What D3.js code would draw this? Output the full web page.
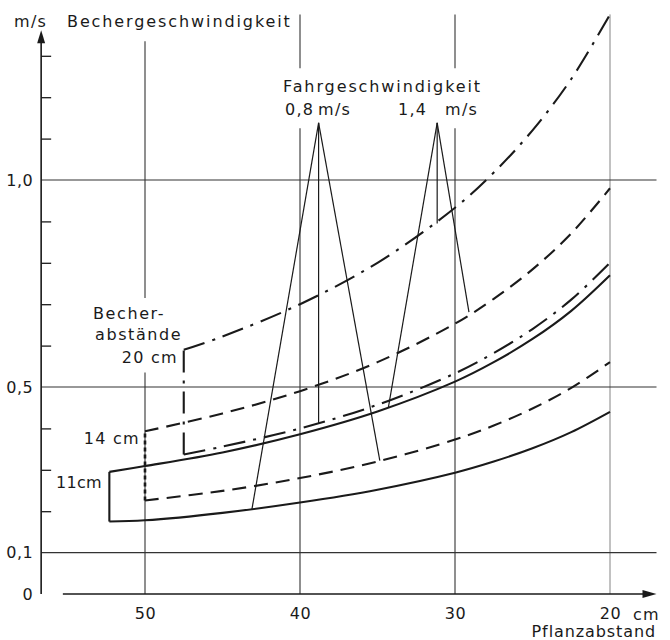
<!DOCTYPE html>
<html>
<head>
<meta charset="utf-8">
<script src="https://cdn.jsdelivr.net/npm/d3@7.9.0/dist/d3.min.js"></script>
<style>
  html, body { margin: 0; padding: 0; background: #fff; }
  svg { display: block; }
  text { font-family: 'DejaVu Sans', sans-serif; font-size: 16px; fill: #1a1a1a; letter-spacing: 1.3px; }
</style>
</head>
<body>
<svg id="chart" width="670" height="640"></svg>
<script>
// Pflanzabstand (cm) on x, Bechergeschwindigkeit (m/s) on y
const xTicks = [50, 40, 30, 20];
const yLabelled = [0, 0.1, 0.5, 1.0];
const yMinor = [0.2, 0.3, 0.4, 0.6, 0.7, 0.8, 0.9, 1.1, 1.2, 1.3];
const yGrid = [0.1, 0.5, 1.0];

// Becherabstand 11 cm
const cup11Slow = [[52.3, 0.175], [50, 0.178], [45, 0.196], [40, 0.221], [35, 0.252], [30, 0.293], [27.5, 0.32], [25, 0.352], [22.5, 0.391], [20, 0.44]];
const cup11Fast = [[52.3, 0.295], [50, 0.309], [45, 0.342], [40, 0.386], [35, 0.441], [30, 0.513], [27.5, 0.56], [25, 0.616], [22.5, 0.684], [20, 0.77]];
// Becherabstand 14 cm
const cup14Slow = [[50, 0.226], [45, 0.249], [40, 0.28], [35, 0.32], [30, 0.373], [27.5, 0.407], [25, 0.448], [22.5, 0.498], [20, 0.56]];
const cup14Fast = [[50, 0.393], [45, 0.436], [40, 0.49], [35, 0.56], [30, 0.653], [27.5, 0.713], [25, 0.784], [22.5, 0.871], [20, 0.98]];
// Becherabstand 20 cm
const cup20Slow = [[47.5, 0.337], [45, 0.356], [40, 0.40], [35, 0.457], [30, 0.533], [27.5, 0.582], [25, 0.64], [22.5, 0.711], [20, 0.80]];
const cup20Fast = [[47.5, 0.59], [45, 0.622], [40, 0.70], [35, 0.80], [30, 0.933], [27.5, 1.018], [25, 1.12], [22.5, 1.244], [20, 1.40]];

const cupSpacings = ['11cm', '14 cm', '20 cm'];
const speedLabels = ['0,8', '1,4'];

// Fahrgeschwindigkeit pointers: apex and where each leg meets a curve
const leaderApex = [[38.8, 1.138], [31.15, 1.138]];
const leaderEnds = [
  [[43.1, 0.205], [38.8, 0.413], [34.85, 0.322]],
  [[34.3, 0.45], [31.15, 0.895], [29.1, 0.681]],
];

const width = 670;
const height = 640;
const ink = '#1a1a1a';

const x = d3.scaleLinear().domain([50, 20]).range([145, 610]);
const y = d3.scaleLinear().domain([0, 1]).range([594, 180]);

const xLeft = 56.7;   // where the y axis stands
const xStart = 55.3;  // x axis line begins a little right of it
const xEnd = 17.0;    // arrow tip
const yTop = 1.362;   // arrow tip

const dash = {
  solid: null,
  dashed: '14,8',
  dotted: '4,3',
  dashdot: '22,8,3,8',
};

const series = [
  { spacing: 0, speed: 0, style: 'solid', values: cup11Slow },
  { spacing: 0, speed: 1, style: 'solid', values: cup11Fast },
  { spacing: 1, speed: 0, style: 'dashed', values: cup14Slow },
  { spacing: 1, speed: 1, style: 'dashed', values: cup14Fast },
  { spacing: 2, speed: 0, style: 'dashdot', values: cup20Slow },
  { spacing: 2, speed: 1, style: 'dashdot', values: cup20Fast },
];

const connectorStyle = ['solid', 'dotted', 'dashdot'];

const svg = d3.select('#chart');

// vertical grid lines, interrupted where the labels sit
const vGrid = [
  { at: 50, parts: [[0, 0.535], [0.715, 1.335]], w: 1.1, c: '#333' },
  { at: 40, parts: [[0, 1.125], [1.27, 1.40]], w: 1.1, c: '#333' },
  { at: 30, parts: [[0, 1.125], [1.27, 1.40]], w: 1.1, c: '#333' },
  { at: 20, parts: [[0, 1.40]], w: 0.9, c: '#777' },
];

const grid = svg.append('g').attr('class', 'grid');

vGrid.forEach((g) => {
  g.parts.forEach(([a, b]) => {
    grid.append('line')
      .attr('x1', x(g.at)).attr('x2', x(g.at))
      .attr('y1', y(a)).attr('y2', y(b))
      .attr('stroke', g.c)
      .attr('stroke-width', g.w);
  });
});

grid.selectAll('line.h')
  .data(yGrid)
  .join('line')
  .attr('class', 'h')
  .attr('x1', x(xLeft))
  .attr('x2', x(xEnd))
  .attr('y1', (d) => y(d))
  .attr('y2', (d) => y(d))
  .attr('stroke', '#333')
  .attr('stroke-width', 1.1);

// axes
const yAxisG = svg.append('g').attr('transform', `translate(${x(xLeft)},0)`);

yAxisG.append('g')
  .call(d3.axisRight(y).tickValues(yMinor).tickSize(10).tickFormat(''))
  .call((g) => g.select('.domain').remove())
  .call((g) => g.selectAll('line').attr('stroke', ink).attr('stroke-width', 1.3));

yAxisG.append('g')
  .call(d3.axisLeft(y).tickValues(yLabelled).tickSize(0).tickPadding(8)
    .tickFormat((d) => (d === 0 ? '0' : d3.format('.1f')(d).replace('.', ','))))
  .call((g) => g.select('.domain').remove())
  .call((g) => g.selectAll('text')
    .attr('font-family', 'DejaVu Sans, sans-serif')
    .attr('font-size', 16)
    .attr('fill', ink)
    .style('letter-spacing', '0.5px'));

yAxisG.append('line')
  .attr('y1', y(0)).attr('y2', y(yTop) + 8)
  .attr('stroke', ink).attr('stroke-width', 1.6);

yAxisG.append('path')
  .attr('d', `M0,${y(yTop)} L-4,${y(yTop) + 13} L4,${y(yTop) + 13} Z`)
  .attr('fill', ink);

const xAxisG = svg.append('g').attr('transform', `translate(0,${y(0)})`);

xAxisG.append('line')
  .attr('x1', x(xStart)).attr('x2', x(xEnd) - 8)
  .attr('stroke', ink).attr('stroke-width', 1.6);

xAxisG.append('path')
  .attr('d', `M${x(xEnd)},0 L${x(xEnd) - 14},-4 L${x(xEnd) - 14},4 Z`)
  .attr('fill', ink);

xAxisG.append('g')
  .call(d3.axisBottom(x).tickValues(xTicks).tickSize(0).tickPadding(14).tickFormat(d3.format('d')))
  .call((g) => g.select('.domain').remove())
  .call((g) => g.selectAll('text')
    .attr('font-family', 'DejaVu Sans, sans-serif')
    .attr('font-size', 16)
    .attr('fill', ink)
    .style('letter-spacing', '0.5px'));

// curves
const line = d3.line()
  .x((d) => x(d[0]))
  .y((d) => y(d[1]))
  .curve(d3.curveCatmullRom.alpha(0.5));

svg.append('g')
  .attr('class', 'curves')
  .selectAll('path')
  .data(series)
  .join('path')
  .attr('d', (d) => line(d.values))
  .attr('fill', 'none')
  .attr('stroke', ink)
  .attr('stroke-width', 2.1)
  .attr('stroke-dasharray', (d) => dash[d.style]);

// closing verticals at the start of each spacing pair
const connectors = cupSpacings.map((label, i) => {
  const pair = series.filter((s) => s.spacing === i);
  return {
    at: pair[0].values[0][0],
    lo: pair[0].values[0][1],
    hi: pair[1].values[0][1],
    style: connectorStyle[i],
  };
});

svg.append('g')
  .selectAll('line')
  .data(connectors)
  .join('line')
  .attr('x1', (d) => x(d.at))
  .attr('x2', (d) => x(d.at))
  .attr('y1', (d) => y(d.lo))
  .attr('y2', (d) => y(d.hi))
  .attr('stroke', ink)
  .attr('stroke-width', (d) => (d.style === 'dotted' ? 2.6 : 2.1))
  .attr('stroke-dasharray', (d) => dash[d.style]);

// leaders from the speed labels
const leaders = svg.append('g').attr('class', 'leaders');

leaderApex.forEach((apex, i) => {
  leaders.selectAll(`line.l${i}`)
    .data(leaderEnds[i])
    .join('line')
    .attr('class', `l${i}`)
    .attr('x1', x(apex[0]))
    .attr('y1', y(apex[1]))
    .attr('x2', (d) => x(d[0]))
    .attr('y2', (d) => y(d[1]))
    .attr('stroke', ink)
    .attr('stroke-width', 1.2);
});

// texts
const label = (tx, ty, str, anchor = 'start') =>
  svg.append('text')
    .attr('x', tx)
    .attr('y', ty)
    .attr('text-anchor', anchor)
    .text(str);

label(14, 27, 'm/s');
label(67, 27, 'Bechergeschwindigkeit').style('letter-spacing', '1.9px');

label(283, 92, 'Fahrgeschwindigkeit').style('letter-spacing', '1.9px');
label(285, 115, speedLabels[0]);
label(318, 115, 'm/s');
label(398, 115, speedLabels[1]);
label(445, 115, 'm/s');

label(93, 319, 'Becher-').style('letter-spacing', '1.6px');
label(95, 340, 'abstände').style('letter-spacing', '1.6px');
label(178, 363, cupSpacings[2], 'end');
label(140, 444, cupSpacings[1], 'end');
label(102, 488, cupSpacings[0], 'end').style('letter-spacing', '0.3px');

label(633, 620, 'cm');
label(656, 637, 'Pflanzabstand', 'end').style('letter-spacing', '0.9px');
</script>
</body>
</html>
